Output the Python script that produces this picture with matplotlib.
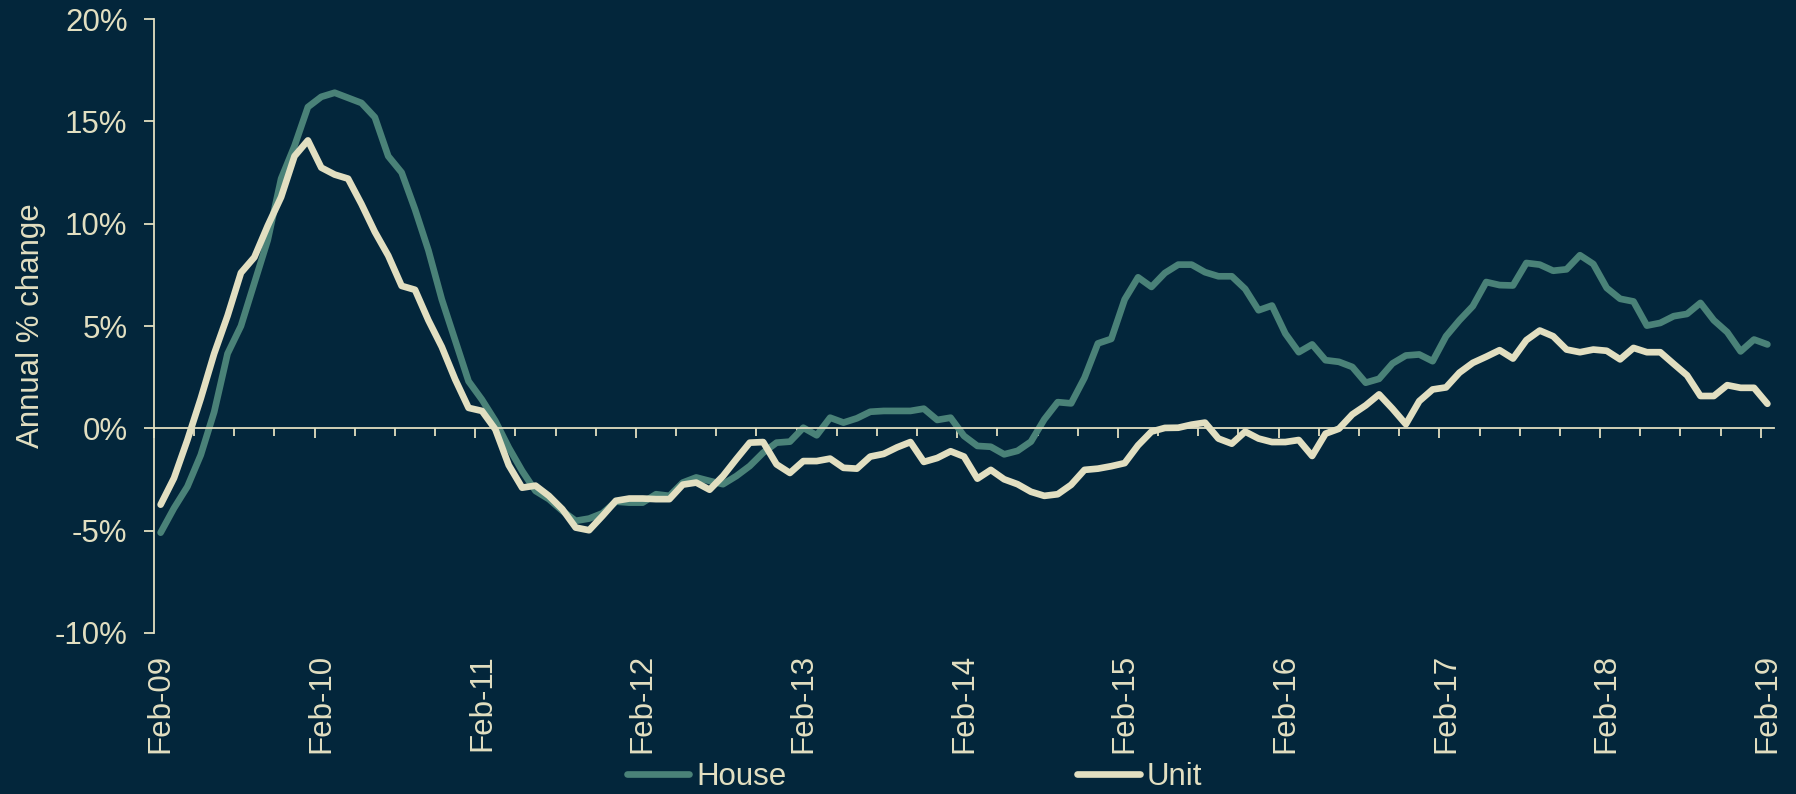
import numpy as np
import matplotlib
matplotlib.use("Agg")
import matplotlib.pyplot as plt

plt.rcParams['font.family'] = ['Liberation Sans', 'DejaVu Sans']

# monthly annual % change, Feb-09 .. Feb-19
house = [-5.1, -3.9, -2.85, -1.3, 0.8, 3.65, 5.0, 7.1, 9.2, 12.2, 13.8, 15.7,
         16.2, 16.4, 16.15, 15.9, 15.2, 13.3, 12.5, 10.7, 8.7, 6.3, 4.3, 2.3,
         1.4, 0.36, -0.94, -2.08, -3.06, -3.46, -4.03, -4.52, -4.41, -4.15, -3.58, -3.63,
         -3.63, -3.22, -3.3, -2.65, -2.4, -2.57, -2.73, -2.33, -1.84, -1.19, -0.7, -0.65,
         0.03, -0.34, 0.52, 0.28, 0.49, 0.81, 0.85, 0.85, 0.85, 0.96, 0.41, 0.52,
         -0.37, -0.86, -0.9, -1.27, -1.1, -0.65, 0.44, 1.28, 1.22, 2.47, 4.15, 4.37,
         6.3, 7.38, 6.91, 7.59, 8.0, 8.0, 7.63, 7.43, 7.43, 6.81, 5.77, 6.0,
         4.63, 3.72, 4.1, 3.33, 3.25, 3.0, 2.23, 2.42, 3.17, 3.56, 3.61, 3.28,
         4.5, 5.28, 5.97, 7.15, 7.0, 6.98, 8.08, 8.0, 7.7, 7.77, 8.46, 8.03,
         6.86, 6.33, 6.2, 5.02, 5.15, 5.48, 5.59, 6.13, 5.28, 4.7, 3.76, 4.34,
         4.1]
unit = [-3.73, -2.43, -0.57, 1.46, 3.65, 5.5, 7.6, 8.36, 9.9, 11.3, 13.3, 14.07,
        12.74, 12.4, 12.2, 10.96, 9.6, 8.44, 6.96, 6.77, 5.28, 3.98, 2.39, 1.0,
        0.85, -0.05, -1.8, -2.9, -2.8, -3.3, -3.95, -4.85, -4.98, -4.28, -3.54, -3.43,
        -3.43, -3.46, -3.46, -2.75, -2.65, -3.0, -2.33, -1.5, -0.7, -0.67, -1.76, -2.18,
        -1.6, -1.6, -1.48, -1.93, -1.97, -1.38, -1.25, -0.93, -0.67, -1.64, -1.45, -1.12,
        -1.38, -2.46, -2.03, -2.49, -2.73, -3.1, -3.3, -3.22, -2.76, -2.03, -1.97, -1.85,
        -1.7, -0.83, -0.16, 0.02, 0.03, 0.18, 0.28, -0.5, -0.75, -0.16, -0.5, -0.67,
        -0.67, -0.57, -1.35, -0.26, -0.02, 0.68, 1.12, 1.66, 0.96, 0.2, 1.33, 1.9,
        2.0, 2.72, 3.2, 3.5, 3.82, 3.41, 4.31, 4.78, 4.5, 3.85, 3.72, 3.85,
        3.79, 3.37, 3.93, 3.72, 3.72, 3.15, 2.59, 1.58, 1.58, 2.11, 1.98, 1.98,
        1.2]
year_labels = ['Feb-09', 'Feb-10', 'Feb-11', 'Feb-12', 'Feb-13', 'Feb-14',
               'Feb-15', 'Feb-16', 'Feb-17', 'Feb-18', 'Feb-19']
y_ticks = [-10, -5, 0, 5, 10, 15, 20]
y_labels = ['-10%', '-5%', '0%', '5%', '10%', '15%', '20%']

BG = '#03263b'
TEAL = '#4a8278'
CREAM = '#e2dfc1'
FS = 22.5

fig = plt.figure(figsize=(17.96, 7.94), dpi=100, facecolor=BG)
ax = fig.add_axes([0.0857, 0.2028, 0.9021, 0.7732])
ax.set_facecolor(BG)

x = np.arange(len(house))
ax.plot(x, house, color=TEAL, lw=4.8, solid_capstyle='round', solid_joinstyle='round', label='House')
ax.plot(x, unit, color=CREAM, lw=4.8, solid_capstyle='round', solid_joinstyle='round', label='Unit')

ax.set_xlim(-0.5, len(house) - 0.5)
ax.set_ylim(-10, 20)
ax.set_yticks(y_ticks)
ax.set_yticklabels(y_labels)

# x axis line sits on 0%, quarterly ticks
for s in ['top', 'right']:
    ax.spines[s].set_visible(False)
ax.spines['bottom'].set_position(('data', 0))
for s in ['bottom', 'left']:
    ax.spines[s].set_color(CREAM)
    ax.spines[s].set_linewidth(1.3)
ax.set_xticks(np.arange(-0.5, len(house), 12))
ax.set_xticks(np.arange(-0.5, len(house), 3), minor=True)
ax.tick_params(axis='x', which='major', direction='out', length=7.5, width=1.3,
               color=CREAM, labelbottom=False)
ax.tick_params(axis='x', which='minor', direction='out', length=5.5, width=1.3, color=CREAM)
ax.tick_params(axis='y', direction='out', length=7, width=1.3, color=CREAM,
               labelcolor=CREAM, labelsize=FS, pad=12)

# date labels at the bottom
sec = ax.secondary_xaxis('bottom')
sec.set_xticks(np.arange(0, len(house), 12), year_labels)
sec.tick_params(length=0, pad=15, labelsize=FS, labelcolor=CREAM, labelrotation=90)
sec.spines['bottom'].set_visible(False)

ax.set_ylabel('Annual % change', color=CREAM, fontsize=FS)
ax.yaxis.set_label_coords(-0.0667, 0.5)

fig.legend(loc='center left', bbox_to_anchor=(0.349, 0.021), ncol=2, frameon=False,
           fontsize=FS, labelcolor=CREAM, handlelength=2.0, handletextpad=0.22,
           columnspacing=9.3, borderpad=0, borderaxespad=0)

fig.savefig('out.png', dpi=100, facecolor=BG)
